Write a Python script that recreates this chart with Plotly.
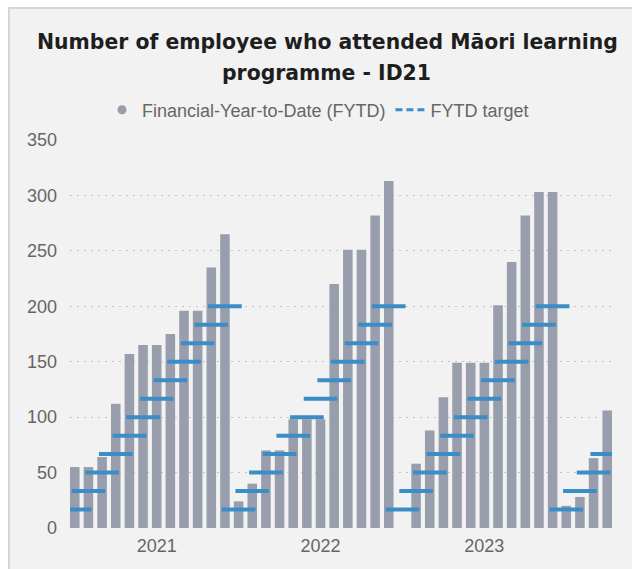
import plotly.graph_objects as go

# Financial-year months (July to June), July 2020 to October 2023
months = [
    "2020-07", "2020-08", "2020-09", "2020-10", "2020-11", "2020-12",
    "2021-01", "2021-02", "2021-03", "2021-04", "2021-05", "2021-06",
    "2021-07", "2021-08", "2021-09", "2021-10", "2021-11", "2021-12",
    "2022-01", "2022-02", "2022-03", "2022-04", "2022-05", "2022-06",
    "2022-07", "2022-08", "2022-09", "2022-10", "2022-11", "2022-12",
    "2023-01", "2023-02", "2023-03", "2023-04", "2023-05", "2023-06",
    "2023-07", "2023-08", "2023-09", "2023-10",
]

# Cumulative attendance, financial year to date (no figure for July 2022)
fytd_attended = [
    55, 55, 64, 112, 157, 165, 165, 175, 196, 196, 235, 265,
    24, 40, 70, 70, 98, 98, 98, 220, 251, 251, 282, 313,
    None, 58, 88, 118, 149, 149, 149, 201, 240, 282, 303, 303,
    20, 28, 63, 106,
]

# Cumulative target, financial year to date
fytd_target = [
    16.7, 33.3, 50, 66.7, 83.3, 100, 116.7, 133.3, 150, 166.7, 183.3, 200,
    16.7, 33.3, 50, 66.7, 83.3, 100, 116.7, 133.3, 150, 166.7, 183.3, 200,
    16.7, 33.3, 50, 66.7, 83.3, 100, 116.7, 133.3, 150, 166.7, 183.3, 200,
    16.7, 33.3, 50, 66.7,
]

year_tick_months = ["2021-01", "2022-01", "2023-01"]
year_tick_labels = ["2021", "2022", "2023"]
y_ticks = [0, 50, 100, 150, 200, 250, 300, 350]

BAR = "#989EAB"
TARGET = "#3A8DC6"
CARD = "#F2F2F2"
TEXT = "#666666"

fig = go.Figure()

fig.add_trace(go.Bar(
    x=months, y=fytd_attended, width=0.7,
    marker=dict(color=BAR, line=dict(width=0)),
    name="Financial-Year-to-Date (FYTD)", showlegend=False,
))

fig.add_trace(go.Scatter(
    x=months, y=fytd_target, mode="markers",
    marker=dict(symbol="line-ew", size=24, line=dict(width=4, color=TARGET), color=TARGET),
    name="FYTD target", showlegend=False, cliponaxis=True,
))

# legend entries
fig.add_trace(go.Scatter(
    x=[None], y=[None], mode="markers",
    marker=dict(symbol="circle", size=9, color=BAR),
    name="Financial-Year-to-Date (FYTD)",
))
fig.add_trace(go.Scatter(
    x=[None], y=[None], mode="lines",
    line=dict(color=TARGET, width=3, dash="7px,4px"),
    name="FYTD target",
))

L, R, T, B = 70, 20, 140, 41
W, H = 632, 569
pw, ph = W - L - R, H - T - B


def px_x(px):
    return (px - L) / pw


def px_y(py):
    return (H - B - py) / ph


title_font = dict(family="DejaVu Sans", size=20.4, color="#1E1E1E", weight="bold")

fig.update_layout(
    width=W, height=H, autosize=False,
    margin=dict(l=L, r=R, t=T, b=B),
    paper_bgcolor="white",
    plot_bgcolor="rgba(0,0,0,0)",
    font=dict(family="Liberation Sans, Arial, sans-serif", size=18, color=TEXT),
    bargap=0.3,
    showlegend=True,
    legend=dict(
        orientation="h", x=px_x(318), xanchor="center", y=px_y(110), yanchor="middle",
        font=dict(size=18, color=TEXT), bgcolor="rgba(0,0,0,0)",
        itemwidth=30, traceorder="normal",
    ),
    shapes=[dict(
        type="rect", xref="paper", yref="paper", layer="below",
        x0=px_x(9), x1=px_x(660), y0=px_y(600), y1=px_y(8),
        fillcolor=CARD, line=dict(color="#D6D6D6", width=2),
    )],
    annotations=[
        dict(text="Number of employee who attended Māori learning", xref="paper", yref="paper",
             x=px_x(327.5), y=px_y(41.5), xanchor="center", yanchor="middle",
             showarrow=False, font=title_font),
        dict(text="programme - ID21", xref="paper", yref="paper",
             x=px_x(326), y=px_y(73), xanchor="center", yanchor="middle",
             showarrow=False, font=title_font),
    ],
)

fig.update_xaxes(
    type="category", categoryorder="array", categoryarray=months,
    range=[-0.35, len(months) - 0.65],
    tickmode="array", tickvals=year_tick_months, ticktext=year_tick_labels,
    showgrid=False, zeroline=False, showline=False, ticks="",
    ticklabelstandoff=5, tickfont=dict(size=18, color=TEXT),
)

fig.update_yaxes(
    range=[0, 350], tickmode="array", tickvals=y_ticks,
    showgrid=True, gridcolor="#C4C4C4", gridwidth=1, griddash="2px,5px",
    zeroline=False, showline=False, ticks="",
    ticklabelstandoff=12, tickfont=dict(size=18, color=TEXT),
)

fig.write_html("out.html")
